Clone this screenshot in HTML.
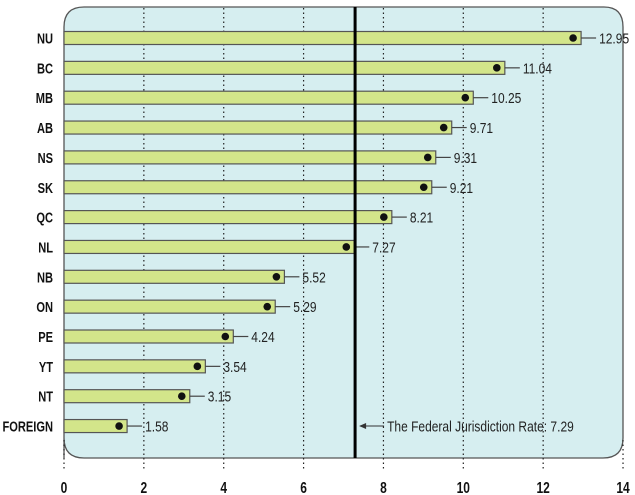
<!DOCTYPE html>
<html><head><meta charset="utf-8"><style>
html,body{margin:0;padding:0;background:#fff;}
svg{display:block;font-family:"Liberation Sans",sans-serif;}
</style></head><body>
<svg id="chart" width="635" height="495"></svg>
<script>
const categories = ["NU","BC","MB","AB","NS","SK","QC","NL","NB","ON","PE","YT","NT","FOREIGN"];
const values = [12.95,11.04,10.25,9.71,9.31,9.21,8.21,7.27,5.52,5.29,4.24,3.54,3.15,1.58];
const valueLabels = ["12.95","11.04","10.25","9.71","9.31","9.21","8.21","7.27","5.52","5.29","4.24","3.54","3.15","1.58"];
const ticks = [0,2,4,6,8,10,12,14];
const federalRate = [7.29];
const NS="http://www.w3.org/2000/svg";
const svg=document.getElementById('chart');
const x0=64, sc=39.93;
const X=v=>x0+v*sc;
const Y=i=>38+i*29.85;
function el(t,a,p){const e=document.createElementNS(NS,t);for(const k in a)e.setAttribute(k,a[k]);(p||svg).appendChild(e);return e;}
function txt(x,y,s,anchor,size,bold,sx){
  const e=el('text',{transform:`translate(${x},${y}) scale(${sx},1)`,"text-anchor":anchor,"font-size":size,"font-weight":bold?"bold":"normal",fill:bold?"#111":"#222"});
  e.textContent=s;return e;
}
const panel=el('path',{d:"M64,458 L64,27 Q64,7 84,7 L604,7 Q623,7 623,27 L623,438 Q623,458 603,458 L84,458 Q64,458 64,438 Z",fill:"#d6eef0",stroke:"#555","stroke-width":1.3});


ticks.forEach(t=>{
  const inner=(t>0&&t<14);
  const g=el('line',{x1:X(t),x2:X(t),y1:inner?8:440,y2:470,stroke:"#222","stroke-width":1.2,"stroke-dasharray":"1.5,3"});
  
  
  const tl=txt(X(t),493,String(t),"middle",16,true,0.75);
  
  
});
categories.forEach((c,i)=>{
  const y=Y(i), xe=X(values[i]);
  const b=el('rect',{x:x0,y:y-6.5,width:xe-x0,height:13,fill:"#d3e58a",stroke:"#555","stroke-width":1.2});
  
  
  const d=el('circle',{cx:xe-8,cy:y,r:3.8,fill:"#111"});
  
  
  const l=el('line',{x1:xe,x2:xe+15,y1:y,y2:y,stroke:"#444","stroke-width":1.2});
  
  
  const vt=txt(xe+18,y+5.5,valueLabels[i],"start",15,false,0.8);
  
  
  const ct=txt(53,y+5.5,c,"end",15,true,0.74);
  
  
});
const fx=X(federalRate[0]);
const fl=el('line',{x1:fx,x2:fx,y1:7,y2:458,stroke:"#000","stroke-width":3});


const ar=el('line',{x1:fx+5,x2:fx+29,y1:426,y2:426,stroke:"#333","stroke-width":1});


const ah=el('path',{d:`M${fx+4},426 l7,-3 l0,6 z`,fill:"#333"});


const at=txt(fx+32,431.5,"The Federal Jurisdiction Rate: 7.29","start",15,false,0.8);


</script>
</body></html>
